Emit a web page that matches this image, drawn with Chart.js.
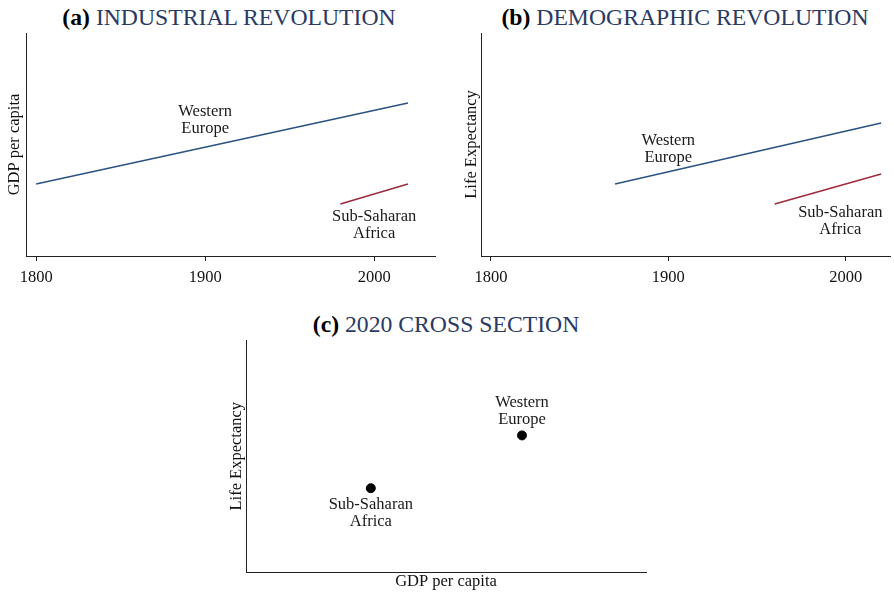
<!DOCTYPE html>
<html>
<head>
<meta charset="utf-8">
<script src="https://cdn.jsdelivr.net/npm/chart.js@4.4.0/dist/chart.umd.min.js"></script>
<style>
  html,body{margin:0;padding:0;background:#fff;}
  body{width:894px;height:595px;position:relative;overflow:hidden;font-family:"Liberation Serif","Times New Roman",serif;}
  .box{position:absolute;}
  .ttl{position:absolute;font-size:23.7px;white-space:nowrap;transform:translate(-50%,-50%);color:#2b3a64;}
  .ttl b{color:#000;}
</style>
</head>
<body>
<div class="ttl" style="left:229px;top:17px;"><b>(a)</b> INDUSTRIAL REVOLUTION</div>
<div class="ttl" style="left:685px;top:17px;"><b>(b)</b> DEMOGRAPHIC REVOLUTION</div>
<div class="ttl" style="left:446px;top:324px;"><b>(c)</b> 2020 CROSS SECTION</div>

<div class="box" style="left:0;top:28px;width:445px;height:262px;"><canvas id="ca"></canvas></div>
<div class="box" style="left:450px;top:28px;width:444px;height:262px;"><canvas id="cb"></canvas></div>
<div class="box" style="left:200px;top:335px;width:460px;height:260px;"><canvas id="cc"></canvas></div>

<script>
// ---- data ----
const yearTicks = [1800, 1900, 2000];

// (a) Industrial revolution: GDP per capita (relative index, no scale shown)
const gdpYearsWE = [1800, 2020];
const gdpWE      = [32.3, 68.6];
const gdpYearsSSA = [1980, 2020];
const gdpSSA      = [23.3, 32.3];

// (b) Demographic revolution: life expectancy (relative index)
const lifeYearsWE = [1870, 2020];
const lifeWE      = [32.3, 59.6];
const lifeYearsSSA = [1960, 2020];
const lifeSSA      = [23.3, 36.8];

// (c) 2020 cross-section: [GDP per capita, life expectancy] (relative index)
const crossNames = ["Sub-Saharan Africa", "Western Europe"];
const crossGDP   = [31.2, 69.0];
const crossLife  = [36.2, 59.0];

const WE_COLOR = '#2a5282';
const SSA_COLOR = '#9c2b3b';
const FONT = "'Liberation Serif','Times New Roman',serif";
const FS = 16.5;

function pts(xs, ys){ return xs.map((x,i)=>({x:x, y:ys[i]})); }

// text label plugin, anchored to data coordinates
const labelPlugin = {
  id: 'dataLabels',
  afterDatasetsDraw(chart, args, opts) {
    const ctx = chart.ctx;
    const xs = chart.scales.x, ys = chart.scales.y;
    ctx.save();
    ctx.font = FS + 'px ' + FONT;
    ctx.fillStyle = '#1a1a1a';
    ctx.textAlign = 'center';
    ctx.textBaseline = 'middle';
    (opts.items || []).forEach(it => {
      const px = xs.getPixelForValue(it.x);
      const py = ys.getPixelForValue(it.y);
      const n = it.lines.length;
      it.lines.forEach((ln, i) => {
        ctx.fillText(ln, px, py + (i - (n-1)/2) * 17);
      });
    });
    ctx.restore();
  }
};

function yearChart(id, yTitle, yWidth, titlePad, padRight, xMin, xMax, datasets, labels) {
  return new Chart(document.getElementById(id), {
    type: 'line',
    data: { datasets: datasets },
    plugins: [labelPlugin],
    options: {
      responsive: true, maintainAspectRatio: false, animation: false,
      layout: { padding: { top: 5, right: padRight, left: 0, bottom: 0 } },
      plugins: { legend: {display:false}, tooltip:{enabled:false}, dataLabels: { items: labels } },
      elements: { point: { radius: 0 }, line: { borderWidth: 1.5, tension: 0 } },
      scales: {
        x: {
          type: 'linear', min: xMin, max: xMax,
          afterBuildTicks: s => { s.ticks = yearTicks.map(v => ({value: v})); },
          afterFit: s => { s.height = 34; },
          border: { display: true, color: '#222', width: 1 },
          grid: { display: true, drawOnChartArea: false, drawTicks: true, tickLength: 5, color: '#222' },
          ticks: { color: '#111', font: { family: FONT, size: FS }, padding: 7, maxRotation: 0,
                   callback: v => String(v) }
        },
        y: {
          min: 0, max: 100,
          afterFit: s => { s.width = yWidth; },
          border: { display: true, color: '#222', width: 1 },
          grid: { display: false },
          ticks: { display: false },
          title: { display: true, text: yTitle, color: '#111', font: { family: FONT, size: FS }, padding: { top: titlePad, bottom: 0 } }
        }
      }
    }
  });
}

yearChart('ca', 'GDP per capita', 26, 5, 10, 1794, 2036, [
  { data: pts(gdpYearsWE, gdpWE), borderColor: WE_COLOR },
  { data: pts(gdpYearsSSA, gdpSSA), borderColor: SSA_COLOR }
], [
  { x: 1900, y: 60.8, lines: ['Western', 'Europe'] },
  { x: 2000, y: 13.7, lines: ['Sub-Saharan', 'Africa'] }
]);

yearChart('cb', 'Life Expectancy', 31, 12, 4, 1794.4, 2025, [
  { data: pts(lifeYearsWE, lifeWE), borderColor: WE_COLOR },
  { data: pts(lifeYearsSSA, lifeSSA), borderColor: SSA_COLOR }
], [
  { x: 1900, y: 48, lines: ['Western', 'Europe'] },
  { x: 1997, y: 15.5, lines: ['Sub-Saharan', 'Africa'] }
]);

new Chart(document.getElementById('cc'), {
  type: 'scatter',
  data: { datasets: [{
    data: pts(crossGDP, crossLife),
    backgroundColor: '#000', borderColor: '#000', pointRadius: 4.5
  }] },
  plugins: [labelPlugin],
  options: {
    responsive: true, maintainAspectRatio: false, animation: false,
    layout: { padding: { top: 5, right: 14, left: 0, bottom: 0 } },
    plugins: { legend: {display:false}, tooltip:{enabled:false},
      dataLabels: { items: [
        { x: 69.0, y: 69.6, lines: ['Western', 'Europe'] },
        { x: 31.2, y: 25.2, lines: ['Sub-Saharan', 'Africa'] }
      ] } },
    scales: {
      x: {
        type: 'linear', min: 0, max: 100,
        afterFit: s => { s.height = 23; },
        border: { display: true, color: '#222', width: 1 },
        grid: { display: false },
        ticks: { display: false },
        title: { display: true, text: 'GDP per capita', color: '#111', font: { family: FONT, size: FS }, padding: { top: 0, bottom: 3 } }
      },
      y: {
        min: 0, max: 100,
        afterFit: s => { s.width = 46; },
        border: { display: true, color: '#222', width: 1 },
        grid: { display: false },
        ticks: { display: false },
        title: { display: true, text: 'Life Expectancy', color: '#111', font: { family: FONT, size: FS }, padding: { top: 27, bottom: 0 } }
      }
    }
  }
});
</script>
</body>
</html>
